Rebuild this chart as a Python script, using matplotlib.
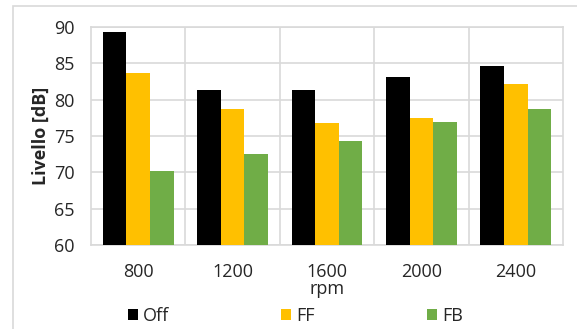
import numpy as np
import matplotlib.pyplot as plt
from matplotlib.patches import Rectangle

plt.rcParams['font.family'] = ['Open Sans', 'DejaVu Sans']

rpm = ["800", "1200", "1600", "2000", "2400"]
off = [89.3, 81.3, 81.3, 83.1, 84.6]
ff = [83.7, 78.7, 76.8, 77.5, 82.1]
fb = [70.2, 72.5, 74.3, 76.9, 78.7]

series = [("Off", off, "#000000"), ("FF", ff, "#FFC000"), ("FB", fb, "#70AD47")]
text_col = "#262626"
grid_col = "#D9D9D9"

fig = plt.figure(figsize=(5.77, 3.29), dpi=100)
ax = fig.add_axes([91 / 577, 1 - 245 / 329, (563 - 91) / 577, (245 - 27) / 329])

# outer chart border
fig.patches.append(Rectangle((13 / 577, -0.1), 1.2, 1 - 6 / 329 + 0.1, transform=fig.transFigure,
                             fill=False, edgecolor=grid_col, linewidth=1.2))

x = np.arange(len(rpm))
w = 0.25
for i, (name, vals, col) in enumerate(series):
    ax.bar(x + (i - 1) * w, np.array(vals) - 60, width=w, bottom=60, color=col, label=name, zorder=3)

ax.set_xlim(-0.5, len(rpm) - 0.5)
ax.set_ylim(60, 90)
ax.set_yticks(range(60, 91, 5))
ax.set_xticks(x)
ax.set_xticklabels(rpm)
ax.set_xticks(np.arange(0.5, len(rpm) - 1, 1), minor=True)
ax.grid(axis="y", color=grid_col, linewidth=1.2, zorder=0)
ax.grid(axis="x", which="minor", color=grid_col, linewidth=1.2, zorder=0)
ax.tick_params(which="both", length=0, colors=text_col, labelsize=13)
ax.tick_params(axis="x", pad=13)
ax.tick_params(axis="y", pad=12)
for s in ax.spines.values():
    s.set_color(grid_col)
    s.set_linewidth(1.2)

ax.set_ylabel("Livello [dB]", fontsize=13, fontweight="bold", color=text_col, labelpad=3)
ax.set_xlabel("rpm", fontsize=13, color=text_col, labelpad=-1)

fig.legend(loc="lower left", bbox_to_anchor=(115 / 577, -0.025), ncol=3, frameon=False,
           fontsize=13, handlelength=0.55, handleheight=0.55, handletextpad=0.3,
           columnspacing=6.2, labelcolor=text_col, borderpad=0.2)

fig.savefig("out.png", dpi=100)
